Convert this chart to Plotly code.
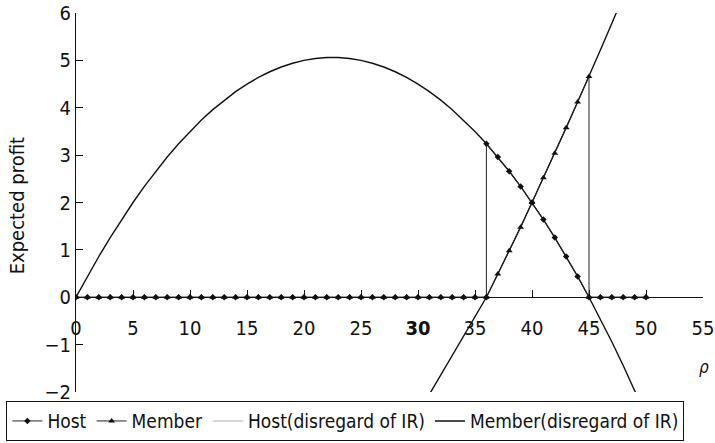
import plotly.graph_objects as go

# rho values used along the horizontal axis
rho = list(range(0, 51))

# Host expected profit when IR is disregarded (rho = 0 .. 50)
host_free = [0.00, 0.44, 0.86, 1.26, 1.64, 2.00, 2.34, 2.66, 2.96, 3.24,
             3.50, 3.74, 3.96, 4.16, 4.34, 4.50, 4.64, 4.76, 4.86, 4.94,
             5.00, 5.04, 5.06, 5.06, 5.04, 5.00, 4.94, 4.86, 4.76, 4.64,
             4.50, 4.34, 4.16, 3.96, 3.74, 3.50, 3.24, 2.96, 2.66, 2.34,
             2.00, 1.64, 1.26, 0.86, 0.44, 0.00, -0.46, -0.94, -1.44, -1.96,
             -2.50]

# Member expected profit when IR is disregarded (rho = 30 .. 48)
member_free_rho = list(range(30, 49))
member_free = [-2.46, -2.05, -1.64, -1.23, -0.82, -0.41, 0.00, 0.49, 0.98, 1.48,
               2.00, 2.52, 3.04, 3.58, 4.12, 4.66, 5.22, 5.78, 6.35]

# Host profit with IR: zero outside 36..45, jumps up at rho = 36
host_rho = list(range(0, 37)) + list(range(36, 51))
host_ir = [0] * 37 + [3.24, 2.96, 2.66, 2.34, 2.00, 1.64, 1.26, 0.86, 0.44,
                      0, 0, 0, 0, 0, 0]

# Member profit with IR: zero outside 36..45, drops back at rho = 45
member_rho = list(range(0, 46)) + list(range(45, 51))
member_ir = [0] * 37 + [0.49, 0.98, 1.48, 2.00, 2.52, 3.04, 3.58, 4.12, 4.66,
                        0, 0, 0, 0, 0, 0]

x_ticks = list(range(0, 56, 5))
x_ticktext = [("<b>%d</b>" % v) if v == 30 else str(v) for v in x_ticks]

FONT = "DejaVu Sans Condensed, Liberation Sans, Arial, sans-serif"

fig = go.Figure()

# curves without the IR constraint
fig.add_trace(go.Scatter(
    x=rho, y=host_free, mode="lines", name="Host(disregard of IR)",
    line=dict(color="#111111", width=1.4), showlegend=False))
fig.add_trace(go.Scatter(
    x=member_free_rho, y=member_free, mode="lines", name="Member(disregard of IR)",
    line=dict(color="#111111", width=1.4), legendrank=4))
# legend entry for the host curve (light grey key)
fig.add_trace(go.Scatter(
    x=[None], y=[None], mode="lines", name="Host(disregard of IR)",
    line=dict(color="#c8c8c8", width=1.4), legendrank=3))

# profits with the IR constraint
fig.add_trace(go.Scatter(
    x=host_rho, y=host_ir, mode="lines+markers", name="Host",
    line=dict(color="#222222", width=1),
    marker=dict(symbol="diamond", size=5, color="#111111"), legendrank=1))
fig.add_trace(go.Scatter(
    x=member_rho, y=member_ir, mode="lines+markers", name="Member",
    line=dict(color="#222222", width=1),
    marker=dict(symbol="triangle-up", size=6, color="#111111"), legendrank=2))

fig.update_layout(
    width=715, height=443,
    margin=dict(l=76, r=12, t=13, b=51, autoexpand=False),
    paper_bgcolor="white", plot_bgcolor="white",
    font=dict(family=FONT, size=18, color="#111111"),
    xaxis=dict(
        range=[0, 55], anchor="free", position=0.25,
        showline=True, linecolor="#111111", linewidth=1,
        ticks="inside", ticklen=7, tickcolor="#111111",
        tickvals=x_ticks, ticktext=x_ticktext, ticklabelstandoff=13,
        showgrid=False, zeroline=False, automargin=False,
        tickfont=dict(family=FONT, size=20)),
    yaxis=dict(
        range=[-2, 6], dtick=1, tick0=0,
        showline=True, linecolor="#111111", linewidth=1,
        ticks="inside", ticklen=7, tickcolor="#111111",
        showgrid=False, zeroline=False, automargin=False,
        tickfont=dict(family=FONT, size=20)),
    legend=dict(
        orientation="h", x=-0.111, xanchor="left", y=-0.024, yanchor="top",
        bordercolor="#111111", borderwidth=1, bgcolor="rgba(0,0,0,0)",
        font=dict(family=FONT, size=19), itemwidth=30,
        tracegroupgap=0),
    showlegend=True,
    annotations=[
        dict(text="Expected profit", textangle=-90, xref="paper", yref="paper",
             x=-0.094, y=0.49, xanchor="center", yanchor="middle",
             showarrow=False, font=dict(family=FONT, size=20)),
        dict(text="<i>ρ</i>", xref="paper", yref="paper",
             x=1.012, y=0.035, showarrow=False,
             font=dict(family=FONT, size=17)),
    ],
)

fig.write_html("out.html")
